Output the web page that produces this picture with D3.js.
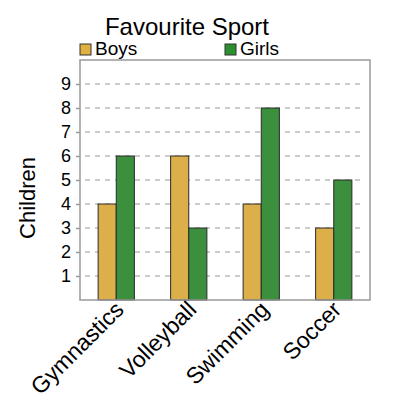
<!DOCTYPE html>
<html>
<head>
<meta charset="utf-8">
<script src="https://cdn.jsdelivr.net/npm/d3@7/dist/d3.min.js"></script>
<style>
    body { margin: 0; background: white; }
    text { font-family: "Liberation Sans", Arial, sans-serif; fill: black; }
</style>
</head>
<body>
<script>
// data
var sports = ["Gymnastics", "Volleyball", "Swimming", "Soccer"]
var boys = [4, 6, 4, 3]
var girls = [6, 3, 8, 5]
var seriesNames = ["Boys", "Girls"]
var yTicks = [1, 2, 3, 4, 5, 6, 7, 8, 9]

window.onload = function() {
    var width = 400
    var height = 400
    var margin = {top: 60, right: 30, bottom: 100, left: 80}
    var colour = ["#dcaf4a", "#3c8f3c"]
    var legendColour = ["#e0b040", "#2b9030"]

    var svg = d3.select("body")
        .append("svg")
        .attr("width", width)
        .attr("height", height)
        .style("background", "white")

    // scales
    var xScale = d3.scaleBand()
        .domain(sports)
        .range([margin.left, width - margin.right])
        .paddingInner(0.5)
        .paddingOuter(0.25)
    var subScale = d3.scaleBand()
        .domain(seriesNames)
        .range([0, xScale.bandwidth()])
    var yScale = d3.scaleLinear()
        .domain([0, 10])
        .range([height - margin.bottom, margin.top])

    // dashed grid lines
    svg.selectAll(".grid")
        .data(yTicks)
        .enter()
        .append("line")
        .attr("class", "grid")
        .attr("x1", margin.left + 5)
        .attr("x2", width - margin.right - 10)
        .attr("y1", function(d) { return yScale(d) })
        .attr("y2", function(d) { return yScale(d) })
        .style("stroke", "#bbbbbb")
        .style("stroke-width", 1.5)
        .style("stroke-dasharray", "5,5")

    // bars, one group per sport
    var groups = svg.selectAll(".group")
        .data(sports)
        .enter()
        .append("g")
        .attr("class", "group")
        .attr("transform", function(d) {
            return "translate(" + xScale(d) + ",0)"
        })
    groups.selectAll("rect")
        .data(function(d, i) {
            return [{name: "Boys", value: boys[i]}, {name: "Girls", value: girls[i]}]
        })
        .enter()
        .append("rect")
        .attr("x", function(d) { return subScale(d.name) })
        .attr("y", function(d) { return yScale(d.value) })
        .attr("width", subScale.bandwidth())
        .attr("height", function(d) { return yScale(0) - yScale(d.value) })
        .style("fill", function(d, i) { return colour[i] })
        .style("stroke", "#2a2a2a")
        .style("stroke-width", 1)

    // frame round the plot
    svg.append("rect")
        .attr("x", margin.left)
        .attr("y", margin.top)
        .attr("width", width - margin.left - margin.right)
        .attr("height", height - margin.top - margin.bottom)
        .style("fill", "none")
        .style("stroke", "#999999")
        .style("stroke-width", 1.5)

    // y axis
    var yAxis = d3.axisLeft(yScale)
        .tickValues(yTicks)
        .tickSize(4)
        .tickPadding(5)
    var yG = svg.append("g")
        .attr("transform", "translate(" + margin.left + ",0)")
        .call(yAxis)
    yG.select(".domain").remove()
    yG.selectAll("line").style("stroke", "#999999").style("stroke-width", 1.5)
    yG.selectAll("text")
        .style("font-size", "18px")
        .style("font-family", "'Liberation Sans', Arial, sans-serif")
        .attr("fill", "black")

    // x labels, rotated
    svg.selectAll(".xlabel")
        .data(sports)
        .enter()
        .append("text")
        .attr("class", "xlabel")
        .attr("transform", function(d) {
            var cx = xScale(d) + xScale.bandwidth() / 2 + 9
            return "translate(" + cx + "," + 311 + ") rotate(-45)"
        })
        .style("text-anchor", "end")
        .style("font-size", "23px")
        .text(function(d) { return d })

    // y label
    svg.append("text")
        .attr("transform", "translate(35,198) rotate(-90)")
        .style("text-anchor", "middle")
        .style("font-size", "22px")
        .text("Children")

    // title
    svg.append("text")
        .attr("x", 187)
        .attr("y", 35)
        .style("text-anchor", "middle")
        .style("font-size", "24px")
        .text("Favourite Sport")

    // legend
    var legendX = [80, 225]
    var legend = svg.selectAll(".legend")
        .data(seriesNames)
        .enter()
        .append("g")
        .attr("class", "legend")
        .attr("transform", function(d, i) {
            return "translate(" + legendX[i] + ",44)"
        })
    legend.append("rect")
        .attr("width", 11)
        .attr("height", 11)
        .style("fill", function(d, i) { return legendColour[i] })
        .style("stroke", "#333333")
        .style("stroke-width", 1)
    legend.append("text")
        .attr("x", 15)
        .attr("y", 10.5)
        .style("font-size", "19px")
        .text(function(d) { return d })
}
</script>
</body>
</html>
